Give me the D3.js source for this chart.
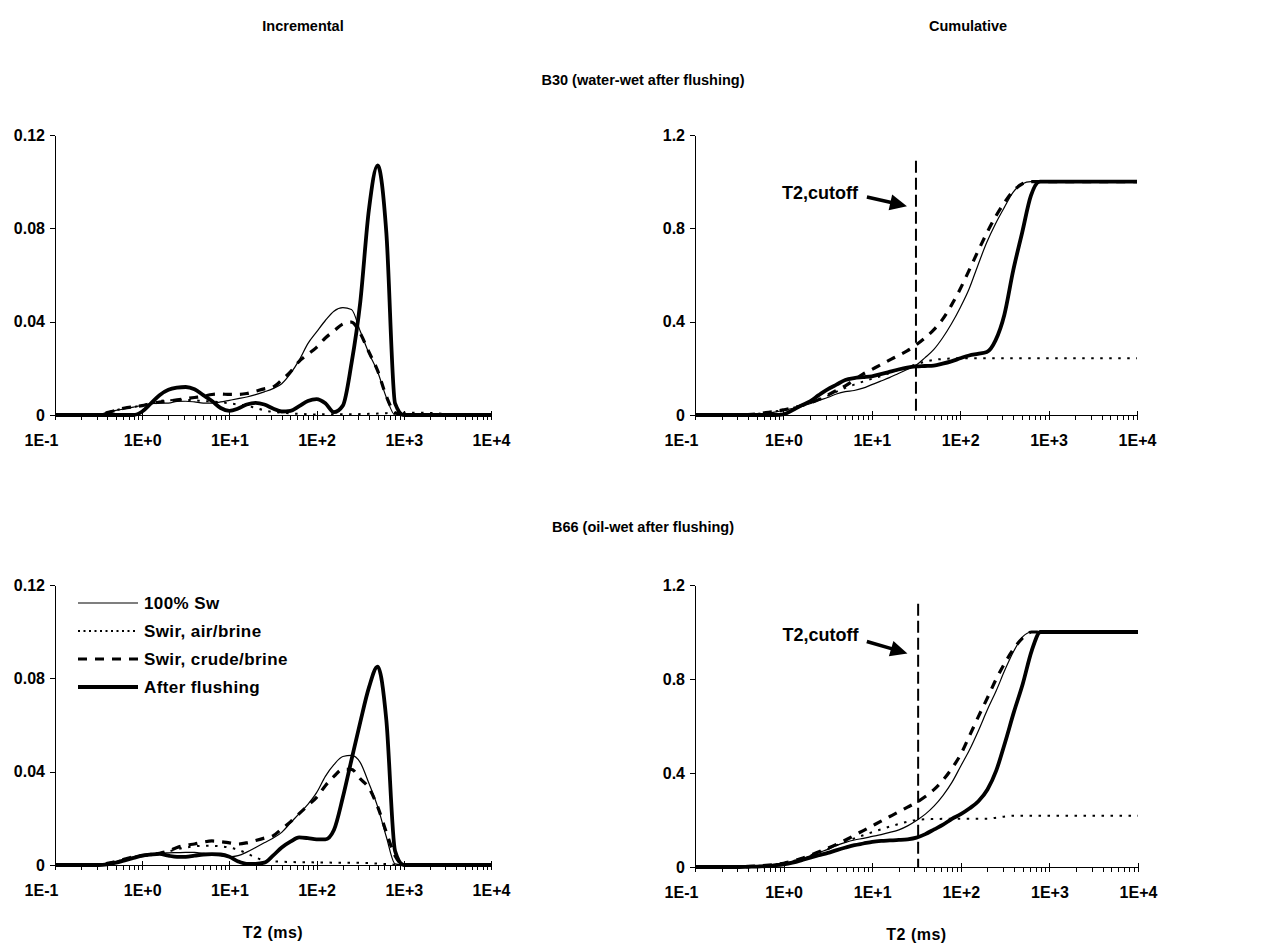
<!DOCTYPE html>
<meta charset="utf-8">
<style>
body { margin: 0; background: #fff; }
text { font-family: Arial, "Liberation Sans", sans-serif; font-weight: bold; fill: #000; }
.axis path, .axis line { stroke: #000; stroke-width: 1; shape-rendering: crispEdges; }
.axis text { font-size: 16px; }
.title { font-size: 14.5px; }
.legend text { font-size: 17px; letter-spacing: 0.4px; }
</style>
<body>
<script src="https://d3js.org/d3.v7.min.js"></script>
<script>

// T2 grid (ms), shared by every series
var t2 = [0.1, 0.2, 0.316, 0.398, 0.501, 0.631, 0.794,
  1, 1.26, 1.58, 2, 2.51, 3.16, 3.98, 5.01, 6.31, 7.94,
  10, 12.6, 15.8, 20, 25.1, 31.6, 39.8, 50.1, 63.1, 79.4,
  100, 126, 158, 200, 251, 316, 398, 501, 631, 794,
  1000, 1585, 3162, 10000];

var xTicksMajor = [0.1, 1, 10, 100, 1000, 10000];
var xTickLabels = ["1E-1", "1E+0", "1E+1", "1E+2", "1E+3", "1E+4"];
var incTicks = [0, 0.04, 0.08, 0.12];
var incLabels = ["0", "0.04", "0.08", "0.12"];
var cumTicks = [0, 0.4, 0.8, 1.2];
var cumLabels = ["0", "0.4", "0.8", "1.2"];

var seriesNames = ["100% Sw", "Swir, air/brine", "Swir, crude/brine", "After flushing"];

// B30 incremental
var b30IncSw = [0, 0, 0, 0.0013, 0.002, 0.0026, 0.0034,
  0.0041, 0.0049, 0.0051, 0.0051, 0.0058, 0.0059, 0.0056, 0.0051, 0.0051, 0.0056,
  0.0063, 0.007, 0.0077, 0.0087, 0.0099, 0.0113, 0.0134, 0.0177, 0.0235, 0.0306,
  0.0356, 0.0405, 0.0445, 0.046, 0.0452, 0.036, 0.0265, 0.0185, 0.0075, 0,
  0, 0, 0, 0];
var b30IncAir = [0, 0, 0, 0.001, 0.002, 0.003, 0.0035,
  0.004, 0.005, 0.006, 0.0063, 0.0065, 0.0065, 0.0063, 0.006, 0.0058, 0.0055,
  0.005, 0.0045, 0.004, 0.003, 0.002, 0.0013, 0.001, 0.0007, 0.0005, 0.0003,
  0.0002, 0.0003, 0.0003, 0.0003, 0.0003, 0.0004, 0.0005, 0.0006, 0.0008, 0.001,
  0.001, 0.001, 0.0004, 0];
var b30IncCrude = [0, 0, 0, 0.001, 0.002, 0.003, 0.0035,
  0.004, 0.005, 0.0055, 0.006, 0.0065, 0.007, 0.0075, 0.008, 0.0088, 0.009,
  0.0088, 0.0088, 0.0092, 0.0102, 0.0112, 0.012, 0.015, 0.0185, 0.023, 0.026,
  0.029, 0.033, 0.036, 0.039, 0.0398, 0.035, 0.027, 0.019, 0.008, 0.001,
  0, 0, 0, 0];
var b30IncFlush = [0, 0, 0, 0, 0, 0, 0,
  0.0015, 0.005, 0.0085, 0.0108, 0.0117, 0.012, 0.011, 0.0085, 0.006, 0.003,
  0.0018, 0.0028, 0.0045, 0.0052, 0.0045, 0.0028, 0.0015, 0.0018, 0.0038, 0.006,
  0.0068, 0.005, 0.0012, 0.004, 0.022, 0.048, 0.088, 0.107, 0.078, 0.005,
  0, 0, 0, 0];

// B30 cumulative
var b30CumSw = [0, 0, 0, 0.001, 0.003, 0.007, 0.012,
  0.02, 0.028, 0.036, 0.048, 0.062, 0.075, 0.09, 0.1, 0.105, 0.115,
  0.13, 0.145, 0.16, 0.178, 0.195, 0.213, 0.245, 0.28, 0.33, 0.39,
  0.46, 0.54, 0.64, 0.74, 0.82, 0.89, 0.955, 0.99, 1, 1,
  1, 1, 1, 1];
var b30CumAir = [0, 0, 0, 0.002, 0.005, 0.01, 0.015,
  0.022, 0.03, 0.04, 0.052, 0.066, 0.082, 0.1, 0.116, 0.13, 0.143,
  0.155, 0.167, 0.18, 0.193, 0.205, 0.217, 0.228, 0.236, 0.24, 0.242,
  0.243, 0.243, 0.243, 0.243, 0.243, 0.243, 0.243, 0.243, 0.243, 0.243,
  0.243, 0.243, 0.243, 0.243];
var b30CumCrude = [0, 0, 0, 0.002, 0.005, 0.01, 0.015,
  0.022, 0.03, 0.04, 0.052, 0.066, 0.085, 0.105, 0.125, 0.15, 0.175,
  0.195, 0.215, 0.235, 0.255, 0.275, 0.3, 0.33, 0.365, 0.41, 0.47,
  0.54, 0.62, 0.7, 0.78, 0.85, 0.91, 0.96, 0.99, 1, 1,
  1, 1, 1, 1];
var b30CumFlush = [0, 0, 0, 0, 0, 0, 0,
  0.003, 0.02, 0.04, 0.058, 0.085, 0.11, 0.13, 0.15, 0.158, 0.162,
  0.166, 0.175, 0.185, 0.195, 0.203, 0.208, 0.21, 0.212, 0.22, 0.23,
  0.243, 0.255, 0.262, 0.27, 0.32, 0.43, 0.62, 0.78, 0.94, 1,
  1, 1, 1, 1];

// B66 incremental
var b66IncSw = [0, 0, 0, 0.0007, 0.0015, 0.0025, 0.0035,
  0.004, 0.0045, 0.005, 0.0052, 0.0053, 0.0054, 0.0054, 0.005, 0.0045, 0.004,
  0.0035, 0.004, 0.0055, 0.0075, 0.0095, 0.0115, 0.014, 0.018, 0.022, 0.026,
  0.031, 0.038, 0.043, 0.0465, 0.047, 0.044, 0.035, 0.025, 0.012, 0.0005,
  0, 0, 0, 0];
var b66IncAir = [0, 0, 0, 0.0007, 0.0015, 0.0025, 0.0035,
  0.004, 0.0045, 0.005, 0.0058, 0.0068, 0.0075, 0.008, 0.0082, 0.0082, 0.008,
  0.0075, 0.0065, 0.005, 0.0032, 0.002, 0.0016, 0.0014, 0.0013, 0.0012, 0.0012,
  0.0011, 0.0011, 0.001, 0.001, 0.001, 0.0009, 0.0008, 0.0006, 0.0004, 0.0001,
  0, 0, 0, 0];
var b66IncCrude = [0, 0, 0, 0.0007, 0.0015, 0.0025, 0.0035,
  0.004, 0.0045, 0.005, 0.006, 0.0075, 0.0085, 0.009, 0.0098, 0.0103, 0.01,
  0.0095, 0.009, 0.0095, 0.0105, 0.0115, 0.0125, 0.0155, 0.0185, 0.022, 0.0255,
  0.029, 0.034, 0.038, 0.041, 0.041, 0.037, 0.033, 0.025, 0.014, 0.004,
  0, 0, 0, 0];
var b66IncFlush = [0, 0, 0, 0.0003, 0.001, 0.002, 0.003,
  0.004, 0.0045, 0.0048, 0.004, 0.0035, 0.0035, 0.004, 0.0045, 0.0047, 0.0045,
  0.0035, 0.0015, 0.0005, 0.0005, 0.001, 0.004, 0.0075, 0.01, 0.0118, 0.0115,
  0.011, 0.011, 0.015, 0.029, 0.045, 0.061, 0.076, 0.085, 0.062, 0.006,
  0, 0, 0, 0];

// B66 cumulative
var b66CumSw = [0, 0, 0, 0.002, 0.004, 0.007, 0.011,
  0.016, 0.025, 0.035, 0.048, 0.062, 0.075, 0.092, 0.105, 0.115, 0.122,
  0.13, 0.138, 0.147, 0.158, 0.175, 0.198, 0.225, 0.26, 0.305, 0.36,
  0.43, 0.5, 0.58, 0.67, 0.75, 0.84, 0.92, 0.98, 1, 1,
  1, 1, 1, 1];
var b66CumAir = [0, 0, 0, 0.002, 0.004, 0.007, 0.011,
  0.016, 0.025, 0.036, 0.049, 0.063, 0.077, 0.093, 0.108, 0.122, 0.135,
  0.148, 0.16, 0.172, 0.183, 0.193, 0.2, 0.203, 0.204, 0.205, 0.205,
  0.205, 0.205, 0.205, 0.205, 0.21, 0.215, 0.218, 0.218, 0.218, 0.218,
  0.218, 0.218, 0.218, 0.218];
var b66CumCrude = [0, 0, 0, 0.002, 0.004, 0.007, 0.011,
  0.016, 0.025, 0.036, 0.05, 0.065, 0.08, 0.097, 0.115, 0.135, 0.155,
  0.175, 0.195, 0.215, 0.235, 0.255, 0.275, 0.3, 0.33, 0.37, 0.42,
  0.48, 0.56, 0.64, 0.72, 0.8, 0.87, 0.93, 0.975, 1, 1,
  1, 1, 1, 1];
var b66CumFlush = [0, 0, 0, 0.001, 0.002, 0.004, 0.007,
  0.011, 0.018, 0.028, 0.04, 0.05, 0.06, 0.072, 0.083, 0.093, 0.1,
  0.107, 0.111, 0.113, 0.115, 0.118, 0.125, 0.14, 0.16, 0.18, 0.205,
  0.225, 0.25, 0.28, 0.33, 0.41, 0.53, 0.66, 0.78, 0.92, 1,
  1, 1, 1, 1];

// T2 cutoff (ms)
var cutoffB30 = 31.6, cutoffB66 = 33;

// line styles per series: thin, dotted, dashed, thick
var styles = [
  {w: 1.2, dash: null},
  {w: 2, dash: "2.5,6.5"},
  {w: 3.2, dash: "9,8"},
  {w: 3.8, dash: null}
];

var svg = d3.select("body").append("svg")
    .attr("width", 1283)
    .attr("height", 943);

function titleText(x, y, s) {
  svg.append("text").attr("class", "title")
      .attr("x", x).attr("y", y)
      .attr("text-anchor", "middle")
      .text(s);
}

titleText(303, 31, "Incremental");
titleText(968, 31, "Cumulative");
titleText(643, 85, "B30 (water-wet after flushing)");
titleText(643, 532, "B66 (oil-wet after flushing)");

function drawPanel(p) {
  var x = d3.scaleLog().domain([0.1, 10000]).range([p.left, p.right]);
  var y = d3.scaleLinear().domain([0, p.ymax]).range([p.bottom, p.top]);
  var g = svg.append("g");

  // minor + major log ticks
  var allTicks = [];
  xTicksMajor.forEach(function(m, i) {
    if (i == xTicksMajor.length - 1) { allTicks.push(m); return; }
    for (var k = 1; k < 10; k++) allTicks.push(m * k);
  });

  var xa = g.append("g").attr("class", "axis")
      .attr("transform", "translate(0," + p.bottom + ")")
      .call(d3.axisBottom(x).tickValues(allTicks).tickSize(5).tickSizeOuter(0)
        .tickFormat(function(d) {
          var i = xTicksMajor.indexOf(d);
          return i < 0 ? "" : xTickLabels[i];
        }));
  xa.selectAll(".tick line")
      .attr("y1", function(d) { return xTicksMajor.indexOf(d) < 0 ? 0 : -4; })
      .attr("y2", 5);
  xa.selectAll(".tick text")
      .attr("y", 20)
      .attr("x", function(d) { return d == 0.1 ? -14 : 0; });

  g.append("g").attr("class", "axis")
      .attr("transform", "translate(" + p.left + ",0)")
      .call(d3.axisLeft(y).tickValues(p.ticks).tickSize(5).tickSizeOuter(0).tickPadding(5)
        .tickFormat(function(d, i) { return p.labels[i]; }));

  var line = d3.line()
      .x(function(d, i) { return x(t2[i]); })
      .y(function(d) { return y(d); })
      .curve(d3.curveMonotoneX);

  p.series.forEach(function(s, i) {
    g.append("path")
        .attr("d", line(s))
        .attr("fill", "none")
        .attr("stroke", "#000")
        .attr("stroke-width", styles[i].w)
        .attr("stroke-dasharray", styles[i].dash)
        .attr("stroke-linejoin", "round");
  });

  if (p.cutoff) {
    g.append("line")
        .attr("x1", x(p.cutoff)).attr("x2", x(p.cutoff))
        .attr("y1", y(p.cutTop)).attr("y2", y(0))
        .attr("stroke", "#000").attr("stroke-width", 2)
        .attr("stroke-dasharray", "12,5");

    // arrow: [tail T, tail value, tip T, tip value, label-end T, label value]
    var a = p.arrow;
    var x1 = x(a[0]), y1 = y(a[1]), x2 = x(a[2]), y2 = y(a[3]);
    var ang = Math.atan2(y2 - y1, x2 - x1), hl = 17, hw = 8;
    var bx = x2 - hl * Math.cos(ang), by = y2 - hl * Math.sin(ang);
    g.append("line")
        .attr("x1", x1).attr("y1", y1).attr("x2", bx + 2 * Math.cos(ang)).attr("y2", by + 2 * Math.sin(ang))
        .attr("stroke", "#000").attr("stroke-width", 3.6);
    g.append("path")
        .attr("d", "M" + x2 + "," + y2 +
          "L" + (bx + hw * Math.sin(ang)) + "," + (by - hw * Math.cos(ang)) +
          "L" + (bx - hw * Math.sin(ang)) + "," + (by + hw * Math.cos(ang)) + "Z")
        .attr("fill", "#000");
    g.append("text")
        .attr("x", x(a[4])).attr("y", y(a[5]))
        .attr("text-anchor", "end")
        .style("font-size", "18px")
        .text("T2,cutoff");
  }

  if (p.xlabel) {
    g.append("text")
        .attr("x", (p.left + p.right) / 2)
        .attr("y", p.bottom + 73)
        .attr("text-anchor", "middle")
        .style("font-size", "16px")
        .style("letter-spacing", "0.5px")
        .text("T2 (ms)");
  }
}

drawPanel({left: 55, right: 491, top: 135, bottom: 415, ymax: 0.12,
  ticks: incTicks, labels: incLabels,
  series: [b30IncSw, b30IncAir, b30IncCrude, b30IncFlush]});

drawPanel({left: 695, right: 1137, top: 135, bottom: 415, ymax: 1.2,
  ticks: cumTicks, labels: cumLabels,
  series: [b30CumSw, b30CumAir, b30CumCrude, b30CumFlush],
  cutoff: cutoffB30, cutTop: 1.09,
  arrow: [8.8, 0.934, 25, 0.895, 7.0, 0.925]});

drawPanel({left: 55, right: 491, top: 585, bottom: 865, ymax: 0.12,
  ticks: incTicks, labels: incLabels, xlabel: true,
  series: [b66IncSw, b66IncAir, b66IncCrude, b66IncFlush]});

drawPanel({left: 695, right: 1138, top: 585, bottom: 867, ymax: 1.2,
  ticks: cumTicks, labels: cumLabels, xlabel: true,
  series: [b66CumSw, b66CumAir, b66CumCrude, b66CumFlush],
  cutoff: cutoffB66, cutTop: 1.12,
  arrow: [8.7, 0.96, 25, 0.909, 7.0, 0.96]});

// legend inside the B66 incremental panel
var legend = svg.append("g").attr("class", "legend");
var legendY = [603, 631, 659, 687];
seriesNames.forEach(function(name, i) {
  legend.append("line")
      .attr("x1", 78).attr("x2", 138)
      .attr("y1", legendY[i]).attr("y2", legendY[i])
      .attr("stroke", "#000")
      .attr("stroke-width", styles[i].w)
      .attr("stroke-dasharray", i == 1 ? "2,3.5" : styles[i].dash);
  legend.append("text")
      .attr("x", 144).attr("y", legendY[i])
      .attr("dy", "0.35em")
      .text(name);
});

</script>
